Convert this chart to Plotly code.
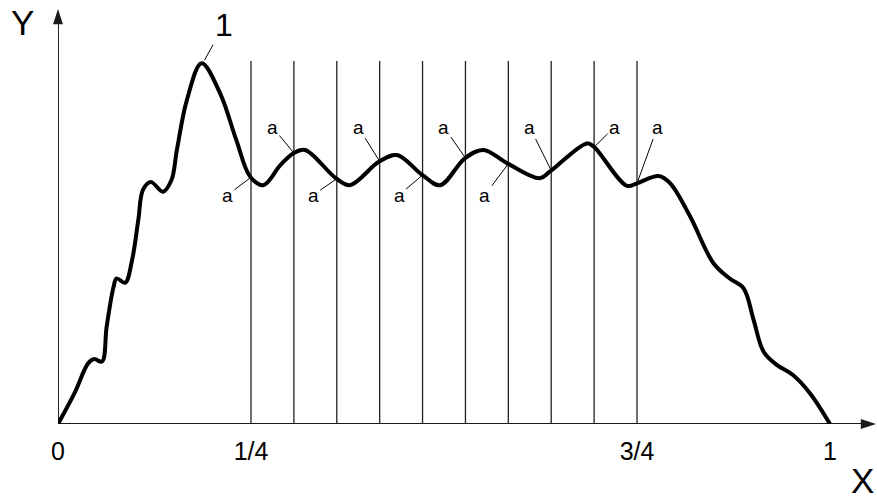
import numpy as np
import plotly.graph_objects as go

# ---- data (x in fractions of the X span, y relative to the top of the grid lines) ----
curve_x = [0.000, 0.022, 0.039, 0.047, 0.057, 0.063, 0.072, 0.076, 0.087, 0.096,
           0.104, 0.110, 0.120, 0.136, 0.147, 0.154, 0.167, 0.186, 0.210, 0.231,
           0.249, 0.266, 0.288, 0.305, 0.320, 0.360, 0.378, 0.416, 0.439, 0.472,
           0.495, 0.527, 0.551, 0.582, 0.624, 0.637, 0.685, 0.694, 0.737, 0.750,
           0.778, 0.793, 0.819, 0.849, 0.870, 0.888, 0.901, 0.914, 0.931, 0.952,
           0.974, 1.000]
curve_y = [0.000, 0.088, 0.167, 0.179, 0.172, 0.268, 0.378, 0.401, 0.389, 0.452,
           0.562, 0.645, 0.667, 0.640, 0.672, 0.755, 0.893, 0.994, 0.911, 0.782,
           0.681, 0.658, 0.713, 0.746, 0.755, 0.677, 0.658, 0.723, 0.741, 0.686,
           0.658, 0.732, 0.755, 0.718, 0.677, 0.695, 0.773, 0.764, 0.656, 0.663,
           0.683, 0.663, 0.571, 0.443, 0.401, 0.374, 0.287, 0.199, 0.163, 0.135,
           0.085, 0.000]

grid_x = [0.25 + k * (0.5 / 9) for k in range(10)]   # 10 vertical lines between 1/4 and 3/4
grid_top = 1.0
label_side = ["low-left", "up-left", "low-left", "up-left", "low-left",
              "up-left", "low-left", "up-left", "up-right", "up-right"]

tick_vals = [0, 0.25, 0.75, 1]
tick_text = ["0", "1/4", "3/4", "1"]

# ---- geometry of the drawing (pixels) ----
W, H = 877, 502
L, B = 58, 78
PX_X = 772.0          # pixels per unit x
PX_Y = 363.0          # pixels per unit y
x_max = (W - L) / PX_X
y_max = (H - B) / PX_Y
x_tip = (W - L - 1) / PX_X
y_tip = (H - B - 9) / PX_Y
AX_COLOR = "#1a1a1a"
FONT = "Liberation Sans, Arial, sans-serif"


def paper_x(px):
    return (px - L) / (W - L)


def paper_y(py):
    return (H - B - py) / (H - B)


fig = go.Figure()

# vertical grid lines
vx, vy = [], []
for gx in grid_x:
    vx += [gx, gx, None]
    vy += [0, grid_top, None]
fig.add_trace(go.Scatter(x=vx, y=vy, mode="lines",
                         line=dict(color="#222222", width=1.3),
                         hoverinfo="skip", showlegend=False, cliponaxis=False))

# axis lines
fig.add_trace(go.Scatter(x=[0, x_tip - 8 / PX_X, None, 0, 0],
                         y=[0, 0, None, 0, y_tip - 8 / PX_Y], mode="lines",
                         line=dict(color=AX_COLOR, width=1.9),
                         hoverinfo="skip", showlegend=False, cliponaxis=False))
# narrow arrowheads
fig.add_trace(go.Scatter(x=[x_tip, 0], y=[0, y_tip], mode="markers",
                         marker=dict(symbol="arrow", size=16, angle=[90, 0],
                                     color=AX_COLOR, line=dict(width=0)),
                         hoverinfo="skip", showlegend=False, cliponaxis=False))

# the curve
fig.add_trace(go.Scatter(x=curve_x, y=curve_y, mode="lines",
                         line=dict(color="black", width=4, shape="spline", smoothing=1.0),
                         hoverinfo="skip", showlegend=False, cliponaxis=False))

ann = []
# axis letters
ann.append(dict(x=paper_x(22), y=paper_y(23), xref="paper", yref="paper", text="Y",
                xanchor="center", yanchor="middle",
                showarrow=False, font=dict(family=FONT, size=35, color="black")))
ann.append(dict(x=paper_x(862), y=paper_y(480), xref="paper", yref="paper", text="X",
                xanchor="center", yanchor="middle",
                showarrow=False, font=dict(family=FONT, size=35, color="black")))

# label "1" on the peak
ipk = int(np.argmax(curve_y))
ann.append(dict(x=curve_x[ipk] + 3 / PX_X, y=curve_y[ipk] + 3 / PX_Y, xref="x", yref="y",
                text="1", showarrow=True, arrowhead=0, arrowwidth=1, arrowcolor="black",
                ax=19, ay=-35, standoff=0,
                font=dict(family=FONT, size=32, color="black")))

# "a" labels at the crossings of the curve with the grid lines
for gx, side in zip(grid_x, label_side):
    gy = float(np.interp(gx, curve_x, curve_y))
    if side == "low-left":
        lx, ly = gx - 23.5 / PX_X, (H - B - 195) / PX_Y
    elif side == "up-left":
        lx, ly = gx - 21.5 / PX_X, (H - B - 127) / PX_Y
    else:
        lx, ly = gx + 20.5 / PX_X, (H - B - 127) / PX_Y
    ann.append(dict(x=gx, y=gy, ax=lx, ay=ly, xref="x", yref="y", axref="x", ayref="y",
                    text="a", showarrow=True, arrowhead=0, arrowwidth=1, arrowcolor="black",
                    standoff=0, font=dict(family=FONT, size=19, color="black")))

fig.update_layout(
    width=W, height=H, margin=dict(l=L, r=0, t=0, b=B),
    paper_bgcolor="white", plot_bgcolor="white",
    annotations=ann, showlegend=False,
    xaxis=dict(range=[0, x_max], showgrid=False, zeroline=False, showline=False,
               tickvals=tick_vals, ticktext=tick_text, ticks="", ticklabelstandoff=10,
               tickfont=dict(family=FONT, size=25, color="black"), fixedrange=True),
    yaxis=dict(range=[0, y_max], showgrid=False, zeroline=False, showline=False,
               showticklabels=False, ticks="", fixedrange=True),
)

fig.write_html("out.html", config={"displayModeBar": False},
               post_script="document.body.style.margin='0';document.body.style.overflow='hidden';")
